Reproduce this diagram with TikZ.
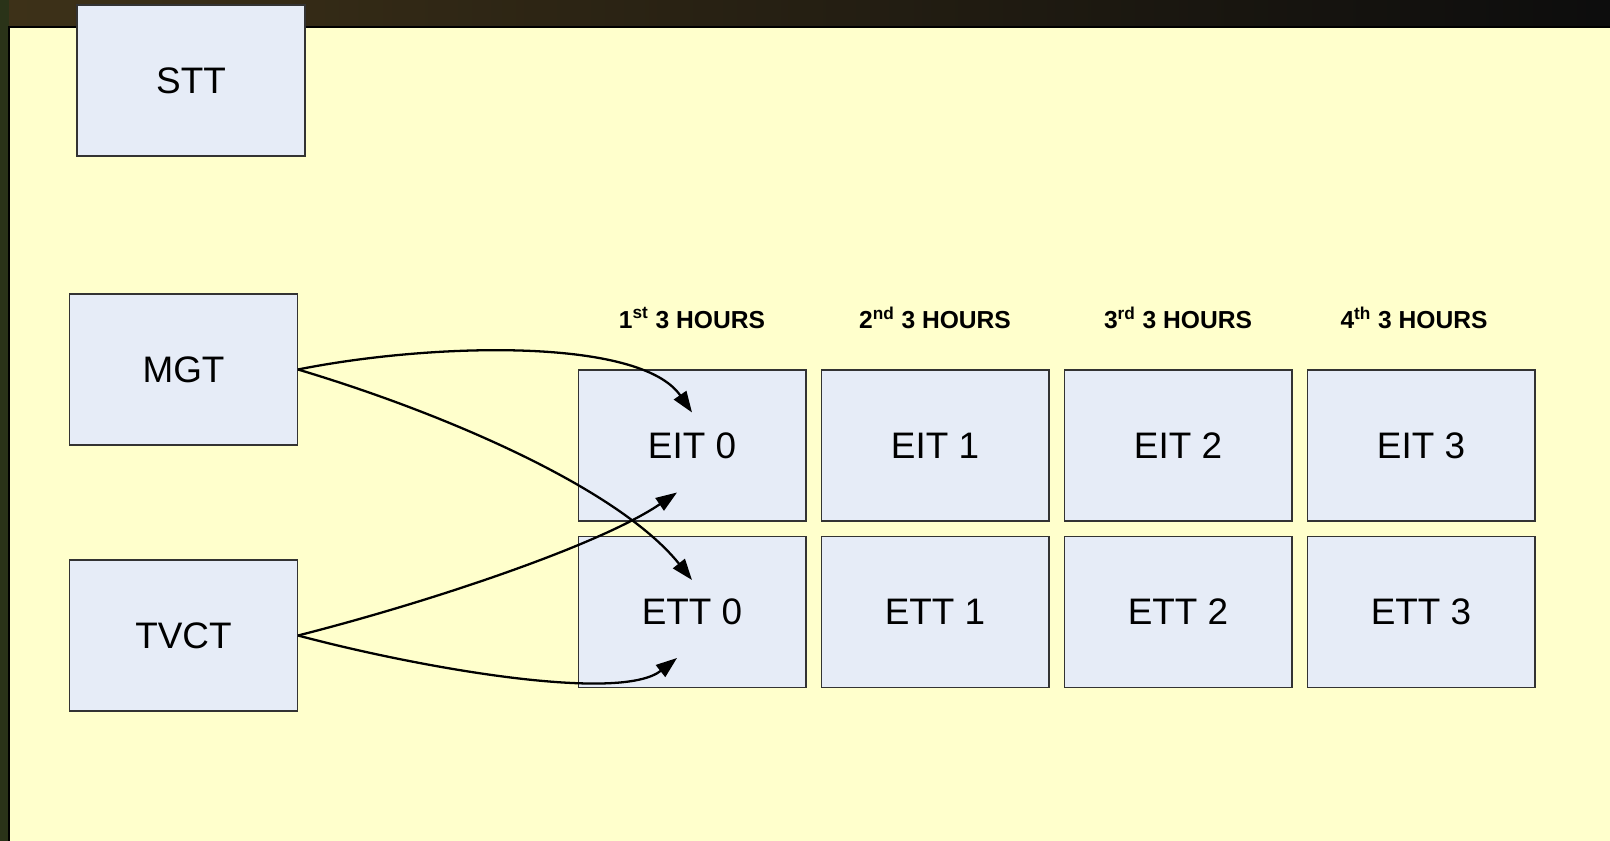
\documentclass[tikz,border=0pt]{standalone}
\usepackage{fontspec}
\setmainfont{Liberation Sans}
\usetikzlibrary{arrows.meta,calc}
\definecolor{panel}{HTML}{FFFFCC}
\definecolor{boxfill}{HTML}{E6ECF7}
\definecolor{olive}{HTML}{2A3318}
\tikzset{
  tbl/.style={draw=black!80, line width=0.6pt, fill=boxfill, minimum width=4.56cm,
    minimum height=3.02cm, inner sep=0pt, font=\fontsize{21}{25}\selectfont},
  hours/.style={font=\fontsize{14}{16}\selectfont\bfseries},
  conn/.style={line width=1.3pt, -{Triangle[length=12pt,width=8.5pt]}}
}
\begin{document}
\begin{tikzpicture}[x=0.02cm, y=-0.02cm]
    \useasboundingbox (0,0) rectangle (1610,841);
    \fill[olive] (0,0) rectangle (1610,841);
    \shade[left color=olive!60!brown!60!black, right color=black!95] (9,0) rectangle (1610,27);
    \fill[panel, draw=black, line width=0.6pt] (9,27) rectangle (1612,843);

    \node[tbl] (stt) at (191,80.5) {STT};
    \node[tbl] (mgt) at (183.5,369.5) {MGT};
    \node[tbl] (tvct) at (183.5,635.5) {TVCT};

    \foreach \i/\s/\dx in {0/st/0,1/nd/0,2/rd/0,3/th/-7} {
        \node[hours] (hours\i) at (692+243*\i+\dx,318) {\the\numexpr\i+1\relax\textsuperscript{\s} 3 HOURS};
        \node[tbl] (eit\i) at (692+243*\i,445.5) {EIT \i};
        \node[tbl] (ett\i) at (692+243*\i,612) {ETT \i};
    }

    \coordinate (eit0in) at ($(eit0.north)+(0,43)$);
    \coordinate (ett0in) at ($(ett0.north)+(0,44)$);
    \coordinate (eit0up) at ($(eit0.south)+(-15,-29)$);
    \coordinate (ett0up) at ($(ett0.south)+(-15,-30)$);

    \draw[conn] (mgt.east) .. controls (430,343) and (640,337) .. (eit0in);
    \draw[conn] (mgt.east) .. controls (450,415) and (620,490) .. (ett0in);
    \draw[conn] (tvct.east) .. controls (430,602) and (600,545) .. (eit0up);
    \draw[conn] (tvct.east) .. controls (420,668) and (620,703) .. (ett0up);
\end{tikzpicture}
\end{document}
